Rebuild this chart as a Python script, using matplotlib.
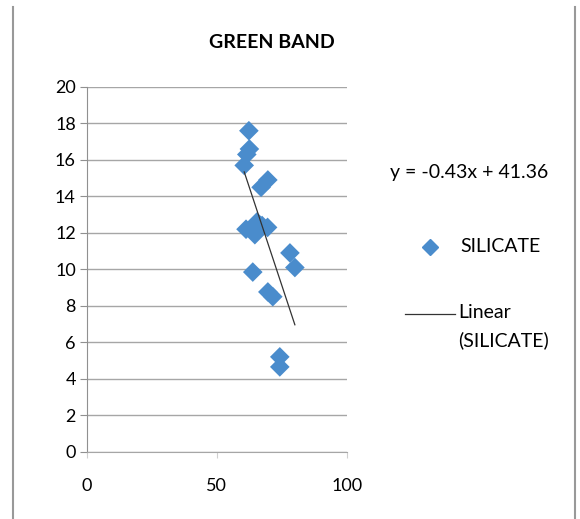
import matplotlib.pyplot as plt
from matplotlib.lines import Line2D

plt.rcParams['font.family'] = ['Lato', 'DejaVu Sans']

# silicate vs green band
silicate_x = [62.3, 62.5, 61.5, 60.5, 69.6, 67.0,
              61.2, 65.4, 69.5, 64.6, 67.4,
              78.1, 80.0, 63.8, 69.6, 71.5, 74.2, 74.2]
green_band = [17.6, 16.6, 16.3, 15.7, 14.9, 14.5,
              12.2, 12.6, 12.3, 11.9, 12.4,
              10.9, 10.1, 9.85, 8.76, 8.5, 5.2, 4.65]

slope = -0.43
intercept = 41.36

x_ticks = [0, 50, 100]
y_ticks = list(range(0, 21, 2))

series_name = 'SILICATE'
blue = '#4a8ccc'
grid_grey = '#a6a6a6'
W, H = 580, 519


def fx(px):
    return px / W


def fy(py):
    return 1 - py / H


fig = plt.figure(figsize=(5.8, 5.19), dpi=100)
ax = fig.add_axes([0.15, 0.1297, 0.448, 0.7027])

ax.scatter(silicate_x, green_band, marker='D', s=100, color=blue,
           edgecolors='none', zorder=3)

x_lo, x_hi = min(silicate_x), max(silicate_x)
ax.plot([x_lo, x_hi], [slope * x_lo + intercept, slope * x_hi + intercept],
        color='#333333', lw=0.9, zorder=4)

ax.set_xlim(0, 100)
ax.set_ylim(0, 20)
ax.set_xticks(x_ticks)
ax.set_yticks(y_ticks)
ax.yaxis.grid(True, color=grid_grey, lw=1)
ax.set_axisbelow(True)
for side in ['top', 'right']:
    ax.spines[side].set_visible(False)
ax.spines['left'].set_color('#909090')
ax.spines['bottom'].set_color(grid_grey)
ax.tick_params(axis='y', length=5, color='#909090', labelsize=13, pad=3)
ax.tick_params(axis='x', length=4, color='#d0d0d0', labelsize=13, pad=15)

fig.text(fx(272), fy(43), 'GREEN BAND', fontsize=14, fontweight='bold',
         ha='center', va='center')

fig.text(fx(390), fy(173), f'y = {slope}x + {intercept}',
         fontsize=14, va='center', ha='left')

# legend, laid out like the Excel one
fig.add_artist(Line2D([fx(430)], [fy(247)], marker='D', ls='none',
                      color=blue, markersize=8))
fig.text(fx(460), fy(247), series_name, fontsize=14, va='center')
fig.add_artist(Line2D([fx(405), fx(455)], [fy(314), fy(314)],
                      color='#333333', lw=0.9))
fig.text(fx(458), fy(312), 'Linear', fontsize=14, va='center')
fig.text(fx(458), fy(340), f'({series_name})', fontsize=14, va='center')

# outer chart frame (left and right edges only are visible)
fig.add_artist(Line2D([fx(13), fx(13)], [0.0, fy(7)],
                      color='#999999', lw=1.5))
fig.add_artist(Line2D([fx(575), fx(575)], [0.0, fy(7)],
                      color='#999999', lw=1.5))

fig.savefig('out.png', dpi=100)
